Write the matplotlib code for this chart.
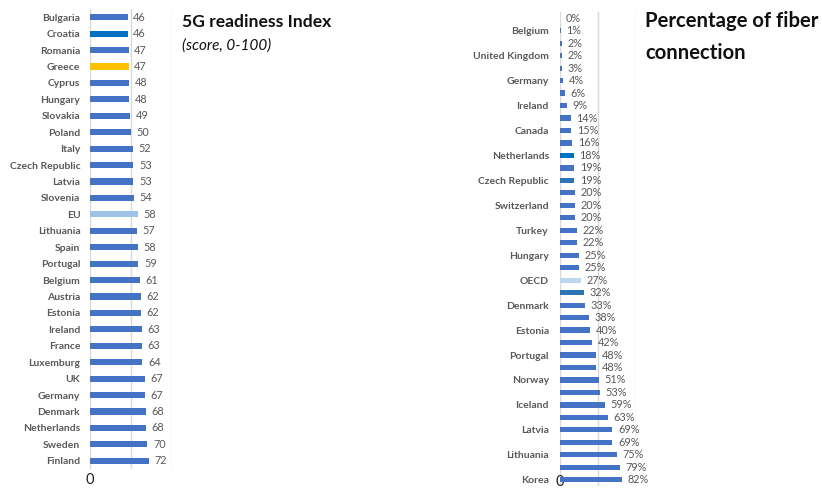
import matplotlib.pyplot as plt

plt.rcParams['font.family'] = ['Lato', 'DejaVu Sans']

# 5G readiness index (score, 0-100)
g5_countries = ['Bulgaria', 'Croatia', 'Romania', 'Greece', 'Cyprus', 'Hungary',
                'Slovakia', 'Poland', 'Italy', 'Czech Republic', 'Latvia', 'Slovenia',
                'EU', 'Lithuania', 'Spain', 'Portugal', 'Belgium', 'Austria', 'Estonia',
                'Ireland', 'France', 'Luxemburg', 'UK', 'Germany', 'Denmark',
                'Netherlands', 'Sweden', 'Finland']
g5_scores = [46, 46, 47, 47, 48, 48, 49, 50, 52, 53, 53, 54, 58, 57, 58, 59, 61,
             62, 62, 63, 63, 64, 67, 67, 68, 68, 70, 72]

# fiber share of fixed broadband (%), only every other country is labelled
fiber_countries = ['', 'Belgium', '', 'United Kingdom', '', 'Germany', '', 'Ireland',
                   '', 'Canada', '', 'Netherlands', '', 'Czech Republic', '',
                   'Switzerland', '', 'Turkey', '', 'Hungary', '', 'OECD', '',
                   'Denmark', '', 'Estonia', '', 'Portugal', '', 'Norway', '',
                   'Iceland', '', 'Latvia', '', 'Lithuania', '', 'Korea']
fiber_pct = [0, 1, 2, 2, 3, 4, 6, 9, 14, 15, 16, 18, 19, 19, 20, 20, 20, 22, 22,
             25, 25, 27, 32, 33, 38, 40, 42, 48, 48, 51, 53, 59, 63, 69, 69, 75,
             79, 82]

BLUE = '#4472C4'
GREY = '#595959'

g5_colors = [BLUE] * len(g5_scores)
g5_colors[g5_countries.index('Croatia')] = '#0070C0'
g5_colors[g5_countries.index('Greece')] = '#FFC000'
g5_colors[g5_countries.index('EU')] = '#9DC3E6'

fiber_colors = [BLUE] * len(fiber_pct)
fiber_colors[fiber_countries.index('Netherlands')] = '#0070C0'
fiber_colors[fiber_countries.index('Czech Republic')] = '#2E75B6'
fiber_colors[fiber_countries.index('OECD')] = '#BDD7EE'
fiber_colors[22] = '#2E75B6'

fig = plt.figure(figsize=(8.22, 4.88), dpi=100)


def bar_panel(ax, labels, values, colors, height, fmt, label_pad):
    y = range(len(values))
    ax.barh(y, values, height=height, color=colors, zorder=3)
    ax.set_xlim(0, 100)
    ax.set_ylim(len(values) - 0.5, -0.5)
    ax.set_yticks(list(y))
    ax.set_yticklabels(labels, fontsize=7.5, fontweight='bold', color=GREY)
    ax.tick_params(axis='y', length=0, pad=label_pad)
    ax.set_xticks([0, 50, 100])
    ax.set_xticklabels(['0', '', ''], fontsize=10.5, color='#222222')
    ax.tick_params(axis='x', length=0)
    ax.grid(axis='x', color='#D9D9D9', linewidth=1, zorder=0)
    for s in ax.spines.values():
        s.set_visible(False)
    for i, v in enumerate(values):
        ax.annotate(fmt.format(v), (v, i), xytext=(4, 0), textcoords='offset points',
                    va='center', ha='left', fontsize=7.8, color=GREY)


ax1 = fig.add_axes([90 / 822, 19 / 488, 82 / 822, 460 / 488])
bar_panel(ax1, g5_countries, g5_scores, g5_colors, 0.38, '{}', 7)
ax1.tick_params(axis='x', pad=3)

ax2 = fig.add_axes([560 / 822, 2 / 488, 76 / 822, 474 / 488])
bar_panel(ax2, fiber_countries, fiber_pct, fiber_colors, 0.42, '{}%', 8)
ax2.tick_params(axis='x', pad=-8)
for t in ax2.get_xticklabels():
    t.set_x(-3)

fig.text(182 / 822, 1 - 22 / 488, '5G readiness Index', fontsize=12.6,
         fontweight='bold', va='center', ha='left', color='#111111')
fig.text(182 / 822, 1 - 46 / 488, '(score, 0-100)', fontsize=11,
         fontstyle='italic', va='center', ha='left', color='#111111')
fig.text(645 / 822, 1 - 37 / 488, 'Percentage of fiber\nconnection', fontsize=14.6,
         fontweight='bold', va='center', ha='left', color='#111111',
         linespacing=1.75)

fig.savefig('out.png', dpi=100)
